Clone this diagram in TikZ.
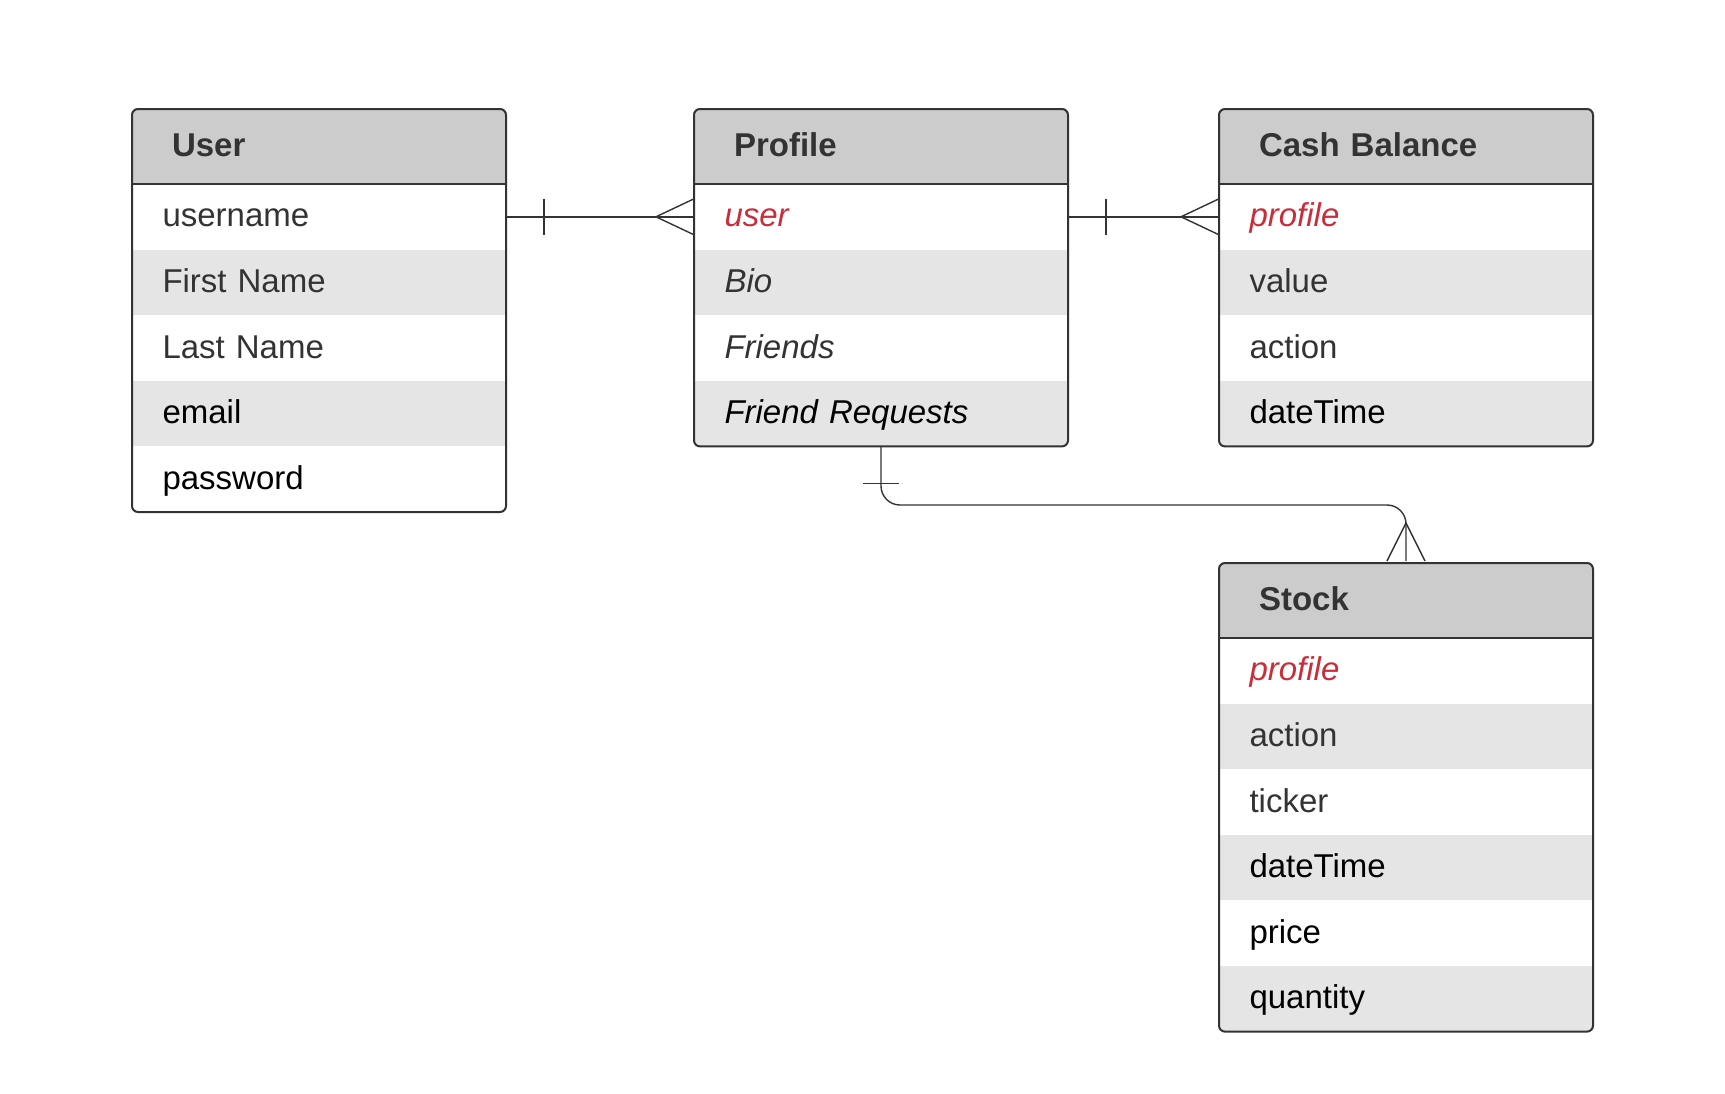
\documentclass[tikz,border=0pt]{standalone}
\usepackage{fontspec}
\setmainfont{Liberation Sans}
\usetikzlibrary{positioning}
\definecolor{headgray}{RGB}{204,204,204}
\definecolor{stripe}{RGB}{229,229,229}
\definecolor{inkgray}{RGB}{51,51,51}
\definecolor{keyred}{RGB}{201,45,57}

\tikzset{
  tblhead/.style={minimum width=374pt, minimum height=75pt, text width=294pt,
    inner xsep=40pt, inner ysep=0pt, outer sep=0pt, text height=25pt, text depth=6pt,
    fill=headgray, text=inkgray, align=left, font=\fontsize{33}{36}\selectfont\bfseries},
  row/.style={minimum width=374pt, minimum height=65.6pt, text width=313pt,
    inner xsep=30.5pt, inner ysep=0pt, outer sep=0pt, text height=26pt, text depth=6pt,
    text=inkgray, align=left, font=\fontsize{33}{36}\selectfont},
  alt/.style={row, fill=stripe},
  ital/.style={font=\fontsize{33}{36}\selectfont\itshape},
  key/.style={ital, text=keyred},
  blk/.style={text=black},
  tblborder/.style={draw=inkgray, line width=2pt},
  link/.style={draw=inkgray, line width=1.4pt}
}

\begin{document}
\begin{tikzpicture}[x=1pt, y=-1pt]
  \useasboundingbox (0,0) rectangle (1725,1093);

  % User
  \begin{scope}
    \clip[rounded corners=6pt] (132,109) rectangle (506,512);
    \node[tblhead, anchor=north west] (user) at (132,109) {User};
    \node[row, below=0pt of user] (user-1) {username};
    \node[alt, below=0pt of user-1] (user-2) {First Name};
    \node[row, below=0pt of user-2] (user-3) {Last Name};
    \node[alt, blk, below=0pt of user-3] (user-4) {email};
    \node[row, blk, below=0pt of user-4] (user-5) {password};
  \end{scope}
  \draw[tblborder, rounded corners=6pt] (user.north west) rectangle (user-5.south east);
  \draw[tblborder] (user.south west) -- (user.south east);

  % Profile
  \begin{scope}
    \clip[rounded corners=6pt] (694,109) rectangle (1068,447);
    \node[tblhead, anchor=north west] (prof) at (694,109) {Profile};
    \node[row, key, below=0pt of prof] (prof-1) {user};
    \node[alt, ital, below=0pt of prof-1] (prof-2) {Bio};
    \node[row, ital, below=0pt of prof-2] (prof-3) {Friends};
    \node[alt, ital, blk, below=0pt of prof-3] (prof-4) {Friend Requests};
  \end{scope}
  \draw[tblborder, rounded corners=6pt] (prof.north west) rectangle (prof-4.south east);
  \draw[tblborder] (prof.south west) -- (prof.south east);

  % Cash Balance
  \begin{scope}
    \clip[rounded corners=6pt] (1219,109) rectangle (1593,447);
    \node[tblhead, anchor=north west] (cash) at (1219,109) {Cash Balance};
    \node[row, key, below=0pt of cash] (cash-1) {profile};
    \node[alt, below=0pt of cash-1] (cash-2) {value};
    \node[row, below=0pt of cash-2] (cash-3) {action};
    \node[alt, blk, below=0pt of cash-3] (cash-4) {dateTime};
  \end{scope}
  \draw[tblborder, rounded corners=6pt] (cash.north west) rectangle (cash-4.south east);
  \draw[tblborder] (cash.south west) -- (cash.south east);

  % Stock
  \begin{scope}
    \clip[rounded corners=6pt] (1219,563) rectangle (1593,1032);
    \node[tblhead, anchor=north west] (stock) at (1219,563) {Stock};
    \node[row, key, below=0pt of stock] (stock-1) {profile};
    \node[alt, below=0pt of stock-1] (stock-2) {action};
    \node[row, below=0pt of stock-2] (stock-3) {ticker};
    \node[alt, blk, below=0pt of stock-3] (stock-4) {dateTime};
    \node[row, blk, below=0pt of stock-4] (stock-5) {price};
    \node[alt, blk, below=0pt of stock-5] (stock-6) {quantity};
  \end{scope}
  \draw[tblborder, rounded corners=6pt] (stock.north west) rectangle (stock-6.south east);
  \draw[tblborder] (stock.south west) -- (stock.south east);

  % one to many: user -> profile
  \draw[link] (user-1.east) -- (prof-1.west);
  \draw[link] ([xshift=38pt,yshift=18pt]user-1.east) -- ([xshift=38pt,yshift=-18pt]user-1.east);
  \draw[link] ([yshift=18pt]prof-1.west) -- ([xshift=-38pt]prof-1.west) -- ([yshift=-18pt]prof-1.west);

  % one to many: profile -> cash balance
  \draw[link] (prof-1.east) -- (cash-1.west);
  \draw[link] ([xshift=38pt,yshift=18pt]prof-1.east) -- ([xshift=38pt,yshift=-18pt]prof-1.east);
  \draw[link] ([yshift=18pt]cash-1.west) -- ([xshift=-38pt]cash-1.west) -- ([yshift=-18pt]cash-1.west);

  % one to many: profile -> stock
  \draw[link, rounded corners=19pt] (prof-4.south) |- ([yshift=58pt]stock.north) -- ([yshift=2pt]stock.north);
  \draw[link] ([xshift=-18pt,yshift=-37pt]prof-4.south) -- ([xshift=18pt,yshift=-37pt]prof-4.south);
  \draw[link] ([xshift=-19pt,yshift=2pt]stock.north) -- ([yshift=40pt]stock.north) -- ([xshift=19pt,yshift=2pt]stock.north);
\end{tikzpicture}
\end{document}
